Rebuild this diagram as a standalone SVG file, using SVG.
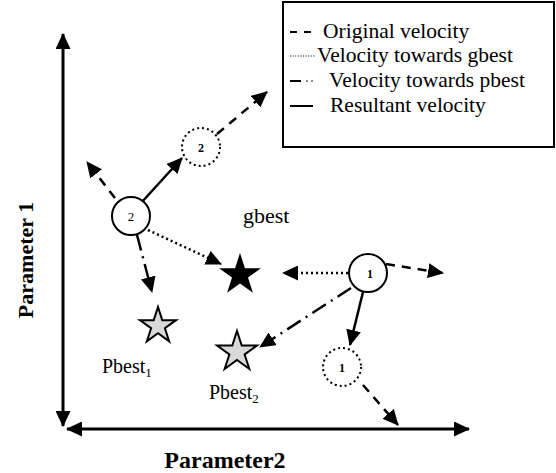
<svg xmlns="http://www.w3.org/2000/svg" width="556" height="473" viewBox="0 0 556 473">
<style>
text{font-family:"Liberation Serif","Times New Roman",serif;fill:#000}
.lg{font-size:21.5px}
.ax{font-weight:bold}
.lbl{font-size:20px}
.num{font-size:12px;font-weight:bold}
.axis{stroke:#000;stroke-width:3;fill:none}
.v{stroke:#000;stroke-width:2.5;fill:none}
.dash{stroke-dasharray:9 7}
.dot{stroke-dasharray:2 3}
.dd{stroke-dasharray:16 6 2 6}
.pc{fill:#fff;stroke:#000;stroke-width:2}
.pcd{fill:#fff;stroke:#000;stroke-width:2;stroke-dasharray:2 3}
.pb{fill:#d9d9d9;stroke:#000;stroke-linejoin:miter}
</style>
<defs>
<marker id="ah" viewBox="0 0 16 15" refX="15" refY="7.5" markerWidth="16" markerHeight="15" markerUnits="userSpaceOnUse" orient="auto-start-reverse">
<path d="M0,0 L16,7.5 L0,15 Z" fill="#000"/>
</marker>
<path id="star" d="M0,-1 L0.2245,-0.309 L0.9511,-0.309 L0.3633,0.118 L0.5878,0.809 L0,0.382 L-0.5878,0.809 L-0.3633,0.118 L-0.9511,-0.309 L-0.2245,-0.309 Z"/>
</defs>

<g id="axes">
<line class="axis" x1="63" y1="426" x2="63" y2="34" marker-end="url(#ah)" marker-start="url(#ah)"/>
<line class="axis" x1="67" y1="429" x2="469" y2="429" marker-end="url(#ah)" marker-start="url(#ah)"/>
<text class="ax" font-size="22" transform="translate(33,260) rotate(-90)" text-anchor="middle">Parameter 1</text>
<text class="ax" font-size="24" x="225" y="468" text-anchor="middle">Parameter2</text>
</g>

<g id="legend">
<rect x="283" y="2" width="271" height="145" fill="#fff" stroke="#000" stroke-width="2"/>
<line x1="290" y1="32" x2="312" y2="32" stroke="#000" stroke-width="2" stroke-dasharray="7 7"/>
<text class="lg" x="323" y="38">Original velocity</text>
<line x1="290" y1="56" x2="316" y2="56" stroke="#000" stroke-width="1.2" stroke-dasharray="1 1.6"/>
<text class="lg" x="317" y="62">Velocity towards gbest</text>
<line x1="290" y1="81" x2="301" y2="81" stroke="#000" stroke-width="2"/>
<circle cx="307" cy="81" r="0.8" fill="#000"/>
<circle cx="312" cy="81" r="0.8" fill="#000"/>
<text class="lg" x="329" y="87">Velocity towards pbest</text>
<line x1="290" y1="106" x2="313" y2="106" stroke="#000" stroke-width="2"/>
<text class="lg" x="330" y="112">Resultant velocity</text>
</g>

<g id="connectors">
<line class="v" x1="141" y1="203" x2="182" y2="158" marker-end="url(#ah)"/>
<line class="v dash" x1="217" y1="134" x2="267" y2="92" marker-end="url(#ah)"/>
<line class="v dash" x1="115" y1="198" x2="87" y2="162" marker-end="url(#ah)"/>
<line class="v dot" x1="148" y1="230" x2="221" y2="264" marker-end="url(#ah)"/>
<line class="v dd" x1="137" y1="235" x2="152" y2="292" marker-end="url(#ah)"/>
<line class="v dot" x1="348" y1="273" x2="283" y2="273" marker-end="url(#ah)"/>
<line class="v dash" x1="386" y1="264" x2="443" y2="273" marker-end="url(#ah)"/>
<line class="v dd" x1="351" y1="288" x2="260" y2="347" marker-end="url(#ah)"/>
<line class="v" x1="363" y1="292" x2="350" y2="345" marker-end="url(#ah)"/>
<line class="v dash" x1="363" y1="385" x2="398" y2="425" marker-end="url(#ah)"/>
</g>

<g id="gbest">
<use href="#star" transform="translate(240,275) scale(22)" fill="#000"/>
<text x="243" y="223" font-size="22">gbest</text>
</g>

<g id="pbest1">
<use href="#star" transform="translate(158,326) scale(19)" class="pb" style="stroke-width:0.105"/>
<text class="lbl" x="102" y="373">Pbest<tspan font-size="13" dy="4">1</tspan></text>
</g>

<g id="pbest2">
<use href="#star" transform="translate(237,352) scale(21)" class="pb" style="stroke-width:0.095"/>
<text class="lbl" x="209" y="399">Pbest<tspan font-size="13" dy="4">2</tspan></text>
</g>

<g id="particle2">
<circle class="pc" cx="131" cy="216" r="19"/>
<text x="131" y="221" font-size="13" text-anchor="middle">2</text>
</g>

<g id="particle2-next">
<circle class="pcd" cx="201" cy="147" r="19"/>
<text class="num" x="201" y="152" text-anchor="middle">2</text>
</g>

<g id="particle1">
<circle class="pc" cx="368" cy="273" r="19"/>
<text class="num" x="370" y="278" text-anchor="middle">1</text>
</g>

<g id="particle1-next">
<circle class="pcd" cx="342" cy="367" r="19"/>
<text class="num" x="342" y="372" text-anchor="middle">1</text>
</g>
</svg>
